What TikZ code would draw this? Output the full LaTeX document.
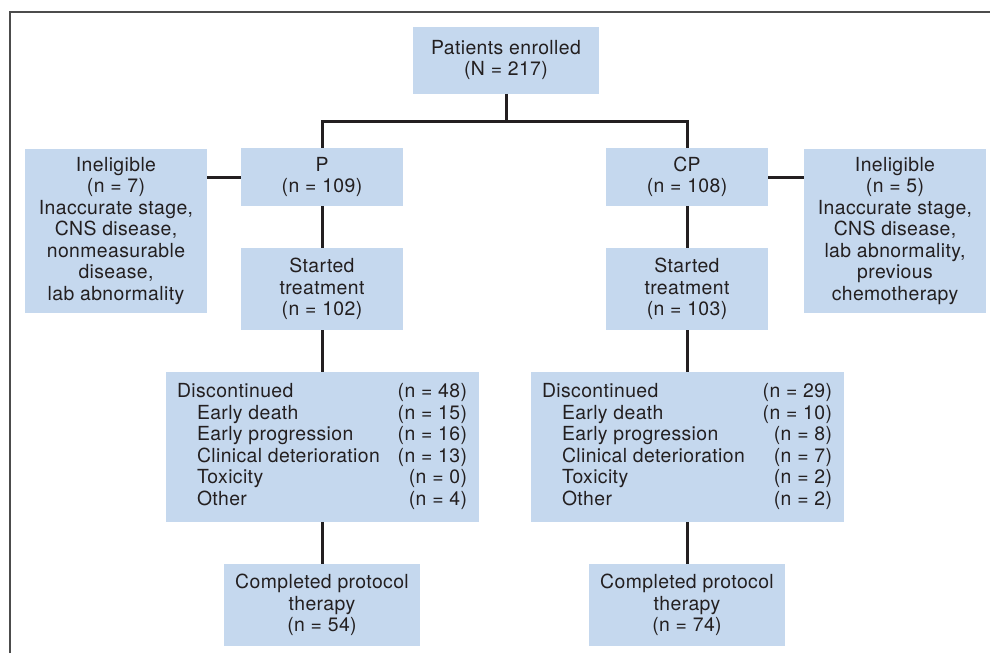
\documentclass[tikz,border=0pt]{standalone}
\usepackage{fontspec}
\setmainfont[LetterSpace=2]{TeX Gyre Heros}
\definecolor{boxblue}{RGB}{197,216,238}
\definecolor{ink}{RGB}{35,31,32}

\begin{document}
\begin{tikzpicture}[x=1pt,y=-1pt,
  box/.style  ={fill=boxblue, text=ink, inner sep=0pt, align=center,
                font=\fontsize{9.7}{10.75}\selectfont},
  conn/.style ={draw=ink, line width=1.5pt},
  frame/.style={draw=black!70, line width=1pt}]

  \useasboundingbox (0,0) rectangle (495,326.5);

  % ---------------- outer frame (left and top only) ----------------
  \draw[frame] (5,326.5) -- (5,6) -- (495,6);

  % ---------------- enrolment ----------------
  \node[box, minimum width=93pt, minimum height=33.5pt] (enrolled) at (253,30)
    {Patients enrolled\\(N = 217)};
  \coordinate (split) at (253,60.5);

  % ---------------- arms ----------------
  \node[box, minimum width=81pt, minimum height=29pt] (P)  at (161,88.5)   {P\\(n = 109)};
  \node[box, minimum width=81pt, minimum height=29pt] (CP) at (343.5,88.5) {CP\\(n = 108)};

  % ---------------- ineligible ----------------
  \node[box, minimum width=91pt, minimum height=82pt] (ineligP) at (58,115.5)
    {Ineligible\\(n = 7)\\Inaccurate stage,\\CNS disease,\\nonmeasurable\\disease,\\lab abnormality};
  \node[box, minimum width=91pt, minimum height=82pt] (ineligCP) at (447.5,115.5)
    {Ineligible\\(n = 5)\\Inaccurate stage,\\CNS disease,\\lab abnormality,\\previous\\chemotherapy};

  % ---------------- started treatment ----------------
  \node[box, minimum width=81pt, minimum height=41pt] (startP)  at (161,144.5)   {Started\\treatment\\(n = 102)};
  \node[box, minimum width=81pt, minimum height=41pt] (startCP) at (343.5,144.5) {Started\\treatment\\(n = 103)};

  % ---------------- discontinued ----------------
  \node[box, minimum width=156.5pt, minimum height=75pt] (discP) at (161,223.5)
    {\begin{tabular*}{145pt}{@{}l@{\extracolsep{\fill}}r@{}}
      Discontinued                      & (n = 48)\\
      \hspace{10pt}Early death          & (n = 15)\\
      \hspace{10pt}Early progression    & (n = 16)\\
      \hspace{10pt}Clinical deterioration & (n = 13)\\
      \hspace{10pt}Toxicity             & (n = 0)\\
      \hspace{10pt}Other                & (n = 4)
    \end{tabular*}};
  \node[box, minimum width=156.5pt, minimum height=75pt] (discCP) at (343.5,223.5)
    {\begin{tabular*}{145pt}{@{}l@{\extracolsep{\fill}}r@{}}
      Discontinued                      & (n = 29)\\
      \hspace{10pt}Early death          & (n = 10)\\
      \hspace{10pt}Early progression    & (n = 8)\\
      \hspace{10pt}Clinical deterioration & (n = 7)\\
      \hspace{10pt}Toxicity             & (n = 2)\\
      \hspace{10pt}Other                & (n = 2)
    \end{tabular*}};

  % ---------------- completed ----------------
  \node[box, minimum width=98pt, minimum height=41pt] (compP)  at (161,302.5)   {Completed protocol\\therapy\\(n = 54)};
  \node[box, minimum width=98pt, minimum height=41pt] (compCP) at (343.5,302.5) {Completed protocol\\therapy\\(n = 74)};

  % ---------------- connectors ----------------
  \draw[conn] (enrolled) -- (split);
  \draw[conn] (P) |- (split) -| (CP);
  \draw[conn] (P.west) -- (P.west -| ineligP.east);
  \draw[conn] (CP.east) -- (CP.east -| ineligCP.west);
  \draw[conn] (P) -- (startP);
  \draw[conn] (startP) -- (discP);
  \draw[conn] (discP) -- (compP);
  \draw[conn] (CP) -- (startCP);
  \draw[conn] (startCP) -- (discCP);
  \draw[conn] (discCP) -- (compCP);
\end{tikzpicture}
\end{document}
